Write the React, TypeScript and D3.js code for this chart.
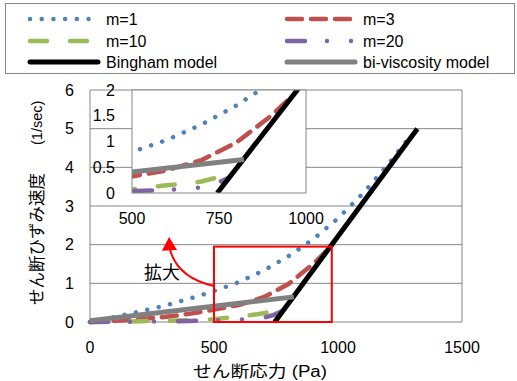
import React, { useEffect, useRef } from 'react';
import * as d3 from 'd3';

// shear stress (Pa) -> shear strain rate (1/sec)
const m1Stress = [0, 100, 200, 300, 400, 500, 600, 700, 800, 900, 1000, 1100, 1200, 1300];
const m1Rate = [0, 0.13, 0.27, 0.42, 0.6, 0.8, 1.03, 1.33, 1.7, 2.14, 2.68, 3.32, 4.06, 4.87];
const m3Stress = [0, 100, 200, 300, 400, 500, 600, 700, 800, 900, 960];
const m3Rate = [0, 0.03, 0.07, 0.13, 0.21, 0.32, 0.44, 0.64, 0.98, 1.5, 1.88];
const m10Stress = [0, 100, 200, 300, 400, 500, 600, 650, 700, 750];
const m10Rate = [0, 0.01, 0.02, 0.03, 0.05, 0.07, 0.15, 0.18, 0.225, 0.31];
const m20Stress = [0, 100, 200, 300, 400, 500, 600, 700, 740, 780];
const m20Rate = [0, 0.005, 0.01, 0.015, 0.025, 0.04, 0.055, 0.11, 0.18, 0.3];
const binghamStress = [745, 1320];
const binghamRate = [0, 5];
const biviscStress = [0, 822];
const biviscRate = [0.03, 0.65];

const xTicks = [0, 500, 1000, 1500];
const yTicks = [0, 1, 2, 3, 4, 5, 6];
const insetXTicks = [500, 750, 1000];
const insetYTicks = [0, 0.5, 1, 1.5, 2];

// zoomed region marked in red, and the "拡大" annotation
const zoomStress = [500, 975];
const zoomRate = [0, 1.95];
const arrowStress = [500, 355, 323, 319, 290, 351];
const arrowRate = [0.93, 1.14, 1.86, 2.2, 1.84, 1.86];
const noteStress = 290;
const noteRate = 1.27;

const FONT = "'Liberation Sans', 'Noto Sans CJK JP', sans-serif";
const GRID = '#868686';

export default function App() {
  const svgRef = useRef<SVGSVGElement>(null);

  useEffect(() => {
    if (!svgRef.current) return;
    const svg = d3.select(svgRef.current);
    svg.selectAll('*').remove();

    const series = [
      { name: 'm=1', xs: m1Stress, ys: m1Rate, color: '#4F81BD', width: 4.5, dash: '0.01 11.7' },
      { name: 'm=3', xs: m3Stress, ys: m3Rate, color: '#C0504D', width: 4.5, dash: '15 9' },
      { name: 'm=10', xs: m10Stress, ys: m10Rate, color: '#9BBB59', width: 4.5, dash: '17 23' },
      { name: 'm=20', xs: m20Stress, ys: m20Rate, color: '#8064A2', width: 4.5, dash: '18 22 0.01 24 0.01 24' },
      { name: 'Bingham model', xs: binghamStress, ys: binghamRate, color: '#000000', width: 5, dash: '' },
      { name: 'bi-viscosity model', xs: biviscStress, ys: biviscRate, color: '#808080', width: 5, dash: '' },
    ];

    const x = d3.scaleLinear().domain([0, 1500]).range([90, 462]);
    const y = d3.scaleLinear().domain([0, 6]).range([322, 90]);
    const xi = d3.scaleLinear().domain([500, 1000]).range([132, 306]);
    const yi = d3.scaleLinear().domain([0, 2]).range([193, 90]);

    const drawSeries = (g: any, sx: any, sy: any) => {
      series.forEach((s) => {
        const pts = s.xs.map((v, i) => [v, s.ys[i]] as [number, number]);
        const line = d3
          .line<[number, number]>()
          .x((d) => sx(d[0]))
          .y((d) => sy(d[1]));
        g.append('path')
          .attr('d', line(pts))
          .attr('fill', 'none')
          .attr('stroke', s.color)
          .attr('stroke-width', s.width)
          .attr('stroke-linecap', s.dash ? 'round' : 'butt')
          .attr('stroke-dasharray', s.dash || null);
      });
    };

    // Main plot grid
    const main = svg.append('g');
    main
      .selectAll('.grid')
      .data(yTicks)
      .enter()
      .append('line')
      .attr('x1', x(0))
      .attr('x2', x(1500))
      .attr('y1', (d) => y(d))
      .attr('y2', (d) => y(d))
      .attr('stroke', GRID)
      .attr('stroke-width', 1);
    [0, 1500].forEach((v) => {
      main
        .append('line')
        .attr('x1', x(v))
        .attr('x2', x(v))
        .attr('y1', y(0))
        .attr('y2', y(6))
        .attr('stroke', GRID)
        .attr('stroke-width', 1);
    });

    // tick labels
    main
      .selectAll('.xl')
      .data(xTicks)
      .enter()
      .append('text')
      .attr('x', (d) => x(d))
      .attr('y', 347)
      .attr('dy', '0.35em')
      .attr('text-anchor', 'middle')
      .attr('font-family', FONT)
      .attr('font-size', 16)
      .text((d) => String(d));
    main
      .selectAll('.yl')
      .data(yTicks)
      .enter()
      .append('text')
      .attr('x', 74)
      .attr('y', (d) => y(d))
      .attr('dy', '0.35em')
      .attr('text-anchor', 'end')
      .attr('font-family', FONT)
      .attr('font-size', 16)
      .text((d) => String(d));

    drawSeries(main.append('g'), x, y);

    // Inset
    const inset = svg.append('g');
    svg
      .append('defs')
      .append('clipPath')
      .attr('id', 'inset-clip')
      .append('rect')
      .attr('x', xi(500))
      .attr('y', yi(2))
      .attr('width', xi(1000) - xi(500))
      .attr('height', yi(0) - yi(2));
    inset
      .append('rect')
      .attr('x', xi(500))
      .attr('y', yi(2))
      .attr('width', xi(1000) - xi(500))
      .attr('height', yi(0) - yi(2))
      .attr('fill', '#fff');
    drawSeries(inset.append('g').attr('clip-path', 'url(#inset-clip)'), xi, yi);
    inset
      .append('rect')
      .attr('x', xi(500))
      .attr('y', yi(2))
      .attr('width', xi(1000) - xi(500))
      .attr('height', yi(0) - yi(2))
      .attr('fill', 'none')
      .attr('stroke', GRID)
      .attr('stroke-width', 1);
    inset
      .selectAll('.ixl')
      .data(insetXTicks)
      .enter()
      .append('text')
      .attr('x', (d) => xi(d))
      .attr('y', 218)
      .attr('dy', '0.35em')
      .attr('text-anchor', 'middle')
      .attr('font-family', FONT)
      .attr('font-size', 16)
      .text((d) => String(d));
    inset
      .selectAll('.iyl')
      .data(insetYTicks)
      .enter()
      .append('text')
      .attr('x', 115)
      .attr('y', (d) => yi(d))
      .attr('dy', '0.35em')
      .attr('text-anchor', 'end')
      .attr('font-family', FONT)
      .attr('font-size', 16)
      .text((d) => String(d));

    // Zoom box, arrow and note
    const red = '#FF0000';
    svg
      .append('rect')
      .attr('x', x(zoomStress[0]))
      .attr('y', y(zoomRate[1]))
      .attr('width', x(zoomStress[1]) - x(zoomStress[0]))
      .attr('height', y(zoomRate[0]) - y(zoomRate[1]))
      .attr('fill', 'none')
      .attr('stroke', red)
      .attr('stroke-width', 2);
    const ap = arrowStress.map((v, i) => [x(v), y(arrowRate[i])]);
    svg
      .append('path')
      .attr('d', `M${ap[0][0]},${ap[0][1]} Q${ap[1][0]},${ap[1][1]} ${ap[2][0]},${ap[2][1]}`)
      .attr('fill', 'none')
      .attr('stroke', red)
      .attr('stroke-width', 2);
    svg
      .append('path')
      .attr('d', `M${ap[3][0]},${ap[3][1]} L${ap[4][0]},${ap[4][1]} L${ap[5][0]},${ap[5][1]} Z`)
      .attr('fill', red);
    svg
      .append('text')
      .attr('x', x(noteStress))
      .attr('y', y(noteRate))
      .attr('dy', '0.35em')
      .attr('text-anchor', 'middle')
      .attr('font-family', FONT)
      .attr('font-size', 18)
      .text('拡大');

    // Axis titles
    svg
      .append('text')
      .attr('x', 260)
      .attr('y', 371)
      .attr('dy', '0.35em')
      .attr('text-anchor', 'middle')
      .attr('font-family', FONT)
      .attr('font-size', 16)
      .attr('textLength', 134)
      .attr('lengthAdjust', 'spacingAndGlyphs')
      .text('せん断応力  (Pa)');
    const yTitle = svg.append('g').attr('transform', 'translate(37,305) rotate(-90)');
    yTitle
      .append('text')
      .attr('x', 0)
      .attr('y', 0)
      .attr('dy', '0.35em')
      .attr('text-anchor', 'start')
      .attr('font-family', FONT)
      .attr('font-size', 16.5)
      .text('せん断ひずみ速度');
    yTitle
      .append('text')
      .attr('x', 160)
      .attr('y', 0)
      .attr('dy', '0.35em')
      .attr('text-anchor', 'start')
      .attr('font-family', FONT)
      .attr('font-size', 14.5)
      .text('(1/sec)');

    // Legend
    const legend = svg.append('g');
    legend
      .append('rect')
      .attr('x', 5.5)
      .attr('y', 3.5)
      .attr('width', 509)
      .attr('height', 70)
      .attr('fill', '#fff')
      .attr('stroke', GRID)
      .attr('stroke-width', 1);
    const colX = [30, 287];
    const rowY = [19, 41, 62];
    series.forEach((s, i) => {
      const cx = colX[i % 2];
      const cy = rowY[Math.floor(i / 2)];
      legend
        .append('line')
        .attr('x1', cx)
        .attr('x2', cx + 68)
        .attr('y1', cy)
        .attr('y2', cy)
        .attr('stroke', s.color)
        .attr('stroke-width', s.width)
        .attr('stroke-linecap', 'round')
        .attr('stroke-dasharray', s.dash || null);
      legend
        .append('text')
        .attr('x', cx + 76)
        .attr('y', cy)
        .attr('dy', '0.35em')
        .attr('font-family', FONT)
        .attr('font-size', 16)
        .text(s.name);
    });
  }, []);

  return (
    <svg
      ref={svgRef}
      width={517}
      height={381}
      style={{ position: 'absolute', left: 0, top: 0, background: '#fff' }}
    ></svg>
  );
}
